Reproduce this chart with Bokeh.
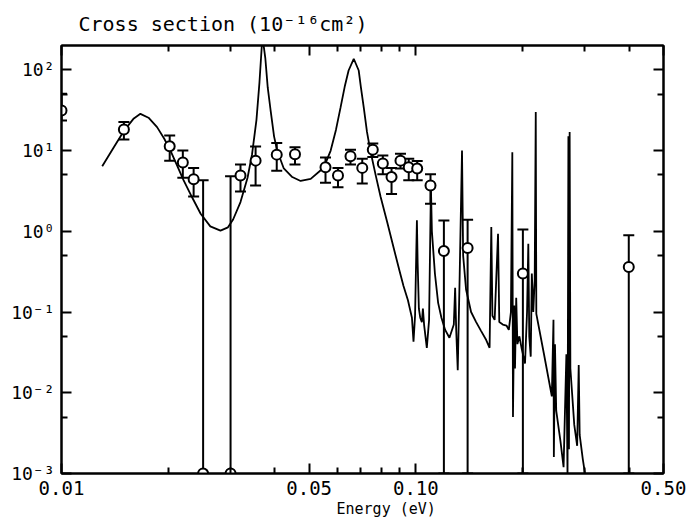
from bokeh.plotting import figure
from bokeh.models import FixedTicker, LogAxis, Title, Range1d
from bokeh.embed import file_html
from bokeh.resources import INLINE

# ---------------- data ----------------
# theoretical cross section curve (energy eV, cross section 1e-16 cm^2)
curve_x = [0.01303, 0.01405, 0.0150, 0.0160, 0.0167, 0.0176, 0.01861, 0.0195, 0.0203, 0.0212,
           0.0221, 0.0234, 0.0247, 0.0263, 0.0281, 0.0295, 0.0305, 0.0320, 0.0335, 0.0345,
           0.0355, 0.0362, 0.0369, 0.0376, 0.0382, 0.0389, 0.0398, 0.0406, 0.0424, 0.0448,
           0.0473, 0.0505, 0.0539, 0.0560, 0.0575, 0.0595, 0.0613, 0.0630, 0.0646, 0.0668,
           0.0690, 0.0700, 0.0713, 0.0728, 0.0744, 0.0770, 0.0795, 0.0830, 0.0866, 0.0900,
           0.0923, 0.0950, 0.0975, 0.0985, 0.0995, 0.1007, 0.1012, 0.1020, 0.1029, 0.1040,
           0.1047, 0.1055, 0.1074, 0.1090, 0.1103, 0.1110, 0.1132, 0.1156, 0.1181, 0.1210,
           0.1244, 0.1280, 0.1291, 0.1300, 0.1313, 0.1330, 0.1350, 0.1360, 0.1386, 0.1432,
           0.1480, 0.1529, 0.1580, 0.1615, 0.1633, 0.1645, 0.1669, 0.1706, 0.1720, 0.1760,
           0.1802, 0.1830, 0.1855, 0.1872, 0.1880, 0.1895, 0.1905, 0.1920, 0.1935, 0.1960,
           0.1990, 0.2033, 0.2060, 0.2077, 0.2090, 0.2110, 0.2125, 0.2145, 0.2165, 0.2180,
           0.2188, 0.2300, 0.2420, 0.2446, 0.2452, 0.2470, 0.2490, 0.2560, 0.2612, 0.2660,
           0.2680, 0.2695, 0.2705, 0.2717, 0.2730, 0.2760, 0.2800, 0.2853, 0.2882, 0.2900,
           0.2960, 0.3013]
curve_y = [6.4, 11.0, 17.5, 25.0, 28.5, 25.5, 19.5, 14.0, 10.0, 6.5,
           4.3, 2.6, 1.65, 1.15, 1.02, 1.12, 1.4, 2.3, 4.6, 9.0,
           24.0, 70.0, 260.0, 140.0, 60.0, 32.0, 15.0, 10.0, 6.0, 4.7,
           4.2, 4.45, 5.7, 7.5, 10.0, 18.0, 34.0, 62.0, 98.0, 137.0,
           98.0, 60.0, 34.0, 17.0, 10.0, 5.0, 2.7, 1.3, 0.62, 0.32,
           0.21, 0.14, 0.085, 0.043, 0.09, 1.37, 0.4, 0.11, 0.085, 0.075,
           0.11, 0.07, 0.036, 0.08, 3.6, 1.0, 0.3, 0.13, 0.085, 0.06,
           0.048, 0.07, 0.2, 0.06, 0.019, 0.3, 10.0, 0.5, 0.19, 0.10,
           0.075, 0.058, 0.045, 0.036, 1.13, 0.09, 0.08, 0.93, 0.075, 0.07,
           0.068, 0.06, 0.1, 9.5, 0.005, 0.12, 0.02, 0.15, 0.04, 0.05,
           0.035, 0.023, 0.1, 0.7, 0.05, 0.028, 0.3, 0.1, 0.25, 30.0,
           0.095, 0.03, 0.009, 0.08, 0.0016, 0.04, 0.006, 0.0025, 0.0012, 0.03,
           0.0009, 15.0, 0.002, 17.0, 0.02, 0.01, 0.004, 0.0022, 0.022, 0.003,
           0.0015, 0.0009]

# measured points with error bars
pts_x = [0.0100, 0.0150, 0.0202, 0.0220, 0.0236, 0.0251, 0.0300, 0.0320, 0.0353, 0.0405,
         0.0456, 0.0556, 0.0603, 0.0654, 0.0706, 0.0756, 0.0807, 0.0854, 0.0905, 0.0955,
         0.1009, 0.1100, 0.1200, 0.1400, 0.2005, 0.3990]
pts_y = [31.3, 18.2, 11.3, 7.1, 4.4, 0.001, 0.001, 4.9, 7.5, 8.9,
         9.0, 6.2, 4.9, 8.5, 6.1, 10.2, 6.9, 4.7, 7.5, 6.2,
         6.0, 3.7, 0.57, 0.62, 0.30, 0.36]
err_hi = [50.5, 22.5, 15.4, 10.0, 6.1, 4.3, 4.8, 6.7, 11.2, 12.4,
          11.0, 8.2, 6.1, 10.2, 7.9, 12.2, 8.7, 6.1, 9.1, 7.9,
          7.4, 5.1, 1.36, 1.39, 1.05, 0.89]
err_lo = [23.6, 13.7, 7.5, 4.6, 2.7, 0.001, 0.001, 3.1, 3.7, 5.6,
          6.7, 4.0, 3.5, 6.7, 3.9, 8.3, 5.1, 2.9, 6.0, 4.3,
          4.3, 2.2, 0.001, 0.001, 0.001, 0.001]

x_ticks = [0.01, 0.05, 0.1, 0.5]
x_tick_labels = ["0.01", "0.05", "0.10", "0.50"]
x_minor = [0.02, 0.03, 0.04, 0.06, 0.07, 0.08, 0.09, 0.2, 0.3, 0.4]
y_ticks = [0.001, 0.01, 0.1, 1.0, 10.0, 100.0]
y_tick_labels = ["10\u207b\u00b3", "10\u207b\u00b2", "10\u207b\u00b9", "10\u2070", "10\u00b9", "10\u00b2"]
y_minor = [0.005, 0.05, 0.5, 5.0, 50.0]

title_text = "Cross section (10\u207b\u00b9\u2076cm\u00b2)"
xlabel_text = "Energy (eV)"

FONT = "DejaVu Sans Mono"

# ---------------- figure ----------------
p = figure(width=689, height=521, x_axis_type="log", y_axis_type="log",
           x_range=Range1d(0.01, 0.5), y_range=Range1d(0.001, 200),
           output_backend="svg", toolbar_location=None,
           min_border_left=61, min_border_right=26, min_border_top=45, min_border_bottom=48)
p.background_fill_color = "white"
p.border_fill_color = "white"
p.outline_line_color = "black"
p.outline_line_width = 2
p.xgrid.visible = False
p.ygrid.visible = False

xt = FixedTicker(ticks=x_ticks, minor_ticks=x_minor)
yt = FixedTicker(ticks=y_ticks, minor_ticks=y_minor)


def style(ax):
    ax.axis_line_width = 2
    ax.axis_line_color = "black"
    ax.major_tick_in = 10
    ax.major_tick_out = 0
    ax.minor_tick_in = 6
    ax.minor_tick_out = 0
    ax.major_tick_line_width = 2
    ax.minor_tick_line_width = 2
    ax.major_tick_line_color = "black"
    ax.minor_tick_line_color = "black"
    ax.major_label_text_font = FONT
    ax.major_label_text_color = "black"


xa = p.xaxis[0]
xa.ticker = xt
style(xa)
xa.major_label_overrides = {t: s for t, s in zip(x_ticks, x_tick_labels)}
xa.major_label_text_font_size = "19px"
xa.major_label_standoff = 7

ya = p.yaxis[0]
ya.ticker = yt
style(ya)
ya.major_label_overrides = {t: s for t, s in zip(y_ticks, y_tick_labels)}
ya.major_label_text_font_size = "18px"
ya.major_label_standoff = 7

# frame ticks on the right and top, without labels
ra = LogAxis(ticker=yt)
style(ra)
ra.major_label_text_font_size = "1px"
ra.major_label_text_color = None
ra.major_label_overrides = {t: "" for t in y_ticks}
ra.major_label_standoff = 0
p.add_layout(ra, "right")

ta = LogAxis(ticker=xt)
style(ta)
ta.major_label_text_font_size = "1px"
ta.major_label_text_color = None
ta.major_label_overrides = {t: "" for t in x_ticks}
ta.major_label_standoff = 0
p.add_layout(ta, "above")

# title and x label as titles
p.title.text = title_text
p.title.text_font = FONT
p.title.text_font_size = "20px"
p.title.text_font_style = "normal"
p.title.align = "left"
p.title.offset = 17
p.title.standoff = 19
p.title.text_color = "black"

xl = Title(text=xlabel_text, text_font=FONT, text_font_size="15px", text_font_style="normal",
           align="left", offset=275, standoff=0, text_color="black")
p.add_layout(xl, "below")

# curve
p.line(curve_x, curve_y, line_color="black", line_width=1.8)

# error bars
p.segment(x0=pts_x, y0=err_lo, x1=pts_x, y1=err_hi, line_color="black", line_width=2)
p.scatter(pts_x, err_hi, marker="dash", size=11, line_color="black", line_width=2)
p.scatter(pts_x, err_lo, marker="dash", size=11, line_color="black", line_width=2)

# points
p.scatter(pts_x, pts_y, marker="circle", size=10, fill_color="white",
          line_color="black", line_width=2)

open("out.html", "w").write(file_html(p, INLINE))
